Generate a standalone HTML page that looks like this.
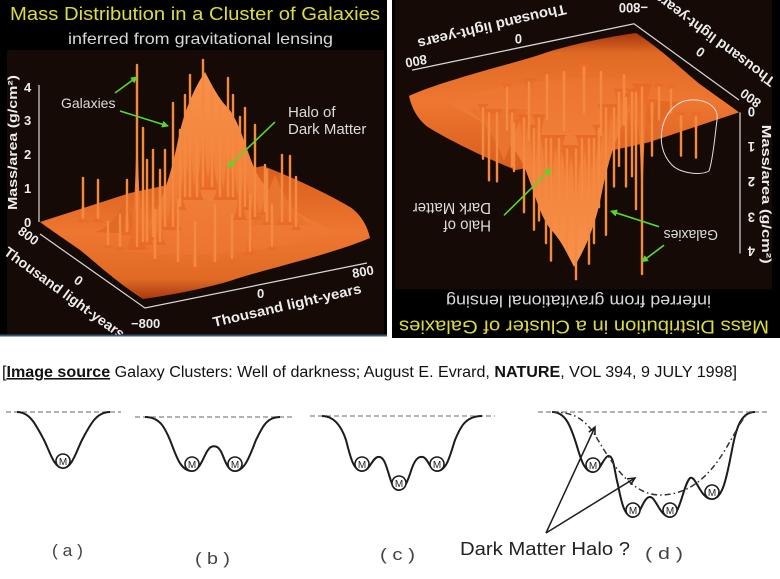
<!DOCTYPE html>
<html><head><meta charset="utf-8"><style>
html,body{margin:0;padding:0;background:#fff;}
svg{display:block;}
text{font-family:"Liberation Sans",sans-serif;}
</style></head><body>
<svg width="780" height="579" viewBox="0 0 780 579" xmlns="http://www.w3.org/2000/svg">
<defs>
<linearGradient id="surf" x1="0" y1="0" x2="0" y2="1">
<stop offset="0" stop-color="#d85e1c"/><stop offset="0.5" stop-color="#ee7630"/><stop offset="0.85" stop-color="#e06a24"/><stop offset="1" stop-color="#a83810"/>
</linearGradient>
<linearGradient id="sp" x1="0" y1="0" x2="0" y2="1">
<stop offset="0" stop-color="#ff9a52"/><stop offset="1" stop-color="#e86a26"/>
</linearGradient>
<linearGradient id="mound" x1="0" y1="0" x2="0" y2="1">
<stop offset="0" stop-color="#f8924a"/><stop offset="1" stop-color="#ec7430"/>
</linearGradient>
<marker id="ga" markerWidth="7" markerHeight="7" refX="6" refY="3.5" orient="auto" markerUnits="userSpaceOnUse"><path d="M0,0 L7,3.5 L0,7 Z" fill="#5ad62a"/></marker>
<clipPath id="cl"><rect x="0" y="0" width="387" height="336"/></clipPath>
<clipPath id="cr"><rect x="392" y="0" width="388" height="338"/></clipPath>
<g id="plot">
<rect x="0" y="0" width="387" height="337" fill="#000"/>
<rect x="7" y="50" width="377" height="284" fill="#150a05"/>
<path d="M40,222 L130,193 L200,178 L263,166 C300,180 335,198 350,207 C362,215 368,228 370,238 C330,255 262,270 233,280 C200,290 165,296 143,299 C120,285 95,262 80,250 C60,236 48,228 40,222 Z" fill="url(#surf)"/>
<path d="M120,250 C150,240 168,190 178,140 C184,110 196,85 205,72 C212,85 218,98 228,108 C240,122 246,150 256,172 C270,200 300,215 335,232 C280,250 200,262 120,250 Z" fill="url(#mound)"/>
<path d="M95,232 C110,228 118,215 125,200 C130,215 140,226 160,235 Z" fill="#e06a26"/>
<path d="M250,225 C262,215 268,190 275,175 C282,192 290,210 310,225 Z" fill="#e87430"/>
<g fill="url(#sp)">
<path d="M180,200 Q190,200 190,75 Q190,200 200,200Z"/>
<path d="M193,190 Q203,190 203,60 Q203,190 213,190Z"/>
<path d="M203,190 Q212,190 212,88 Q212,190 221,190Z"/>
<path d="M218,200 Q228,200 228,78 Q228,200 238,200Z"/>
<path d="M225,200 Q233,200 233,95 Q233,200 241,200Z"/>
<path d="M235,210 Q245,210 245,108 Q245,210 255,210Z"/>
<path d="M212,200 Q220,200 220,105 Q220,200 228,200Z"/>
<path d="M172,210 Q180,210 180,130 Q180,210 188,210Z"/>
<path d="M189,200 Q197,200 197,115 Q197,200 205,200Z"/>
<path d="M163,230 Q173,230 173,103 Q173,230 183,230Z"/>
<path d="M157,230 Q165,230 165,150 Q165,230 173,230Z"/>
<path d="M177,200 Q185,200 185,95 Q185,200 193,200Z"/>
<path d="M232,220 Q240,220 240,117 Q240,220 248,220Z"/>
<path d="M247,220 Q255,220 255,125 Q255,220 263,220Z"/>
<path d="M258,215 Q265,215 265,165 Q265,215 272,215Z"/>
<path d="M275,225 Q282,225 282,155 Q282,225 289,225Z"/>
<path d="M283,225 Q290,225 290,156 Q290,225 297,225Z"/>
<path d="M290,230 Q296,230 296,177 Q296,230 302,230Z"/>
<path d="M261,225 Q267,225 267,170 Q267,225 273,225Z"/>
<path d="M125,250 Q137,250 137,65 Q137,250 149,250Z"/>
<path d="M135,245 Q143,245 143,128 Q143,245 151,245Z"/>
<path d="M146,240 Q153,240 153,150 Q153,240 160,240Z"/>
<path d="M120,235 Q127,235 127,180 Q127,235 134,235Z"/>
<path d="M76,222 Q83,222 83,178 Q83,222 90,222Z"/>
<path d="M91,222 Q98,222 98,180 Q98,222 105,222Z"/>
<path d="M140,245 Q147,245 147,160 Q147,245 154,245Z"/>
<path d="M153,245 Q160,245 160,170 Q160,245 167,245Z"/>
<path d="M146,262 Q155,262 155,210 Q155,262 164,262Z"/>
<path d="M169,265 Q178,265 178,200 Q178,265 187,265Z"/>
<path d="M206,265 Q215,265 215,205 Q215,265 224,265Z"/>
<path d="M242,255 Q250,255 250,195 Q250,255 258,255Z"/>
<path d="M113,250 Q120,250 120,215 Q120,250 127,250Z"/>
<path d="M102,248 Q108,248 108,222 Q108,248 114,248Z"/>
<path d="M225,262 Q232,262 232,215 Q232,262 239,262Z"/>
<path d="M187,270 Q195,270 195,222 Q195,270 203,270Z"/>
<path d="M266,250 Q272,250 272,205 Q272,250 278,250Z"/>
</g>
<g stroke="#f48a40" stroke-width="2.4" stroke-linecap="round">
<line x1="190" y1="75" x2="190" y2="196"/>
<line x1="203" y1="60" x2="203" y2="186"/>
<line x1="212" y1="88" x2="212" y2="186"/>
<line x1="228" y1="78" x2="228" y2="196"/>
<line x1="233" y1="95" x2="233" y2="196"/>
<line x1="245" y1="108" x2="245" y2="206"/>
<line x1="220" y1="105" x2="220" y2="196"/>
<line x1="180" y1="130" x2="180" y2="206"/>
<line x1="197" y1="115" x2="197" y2="196"/>
<line x1="173" y1="103" x2="173" y2="226"/>
<line x1="165" y1="150" x2="165" y2="226"/>
<line x1="185" y1="95" x2="185" y2="196"/>
<line x1="240" y1="117" x2="240" y2="216"/>
<line x1="255" y1="125" x2="255" y2="216"/>
<line x1="265" y1="165" x2="265" y2="211"/>
<line x1="282" y1="155" x2="282" y2="221"/>
<line x1="290" y1="156" x2="290" y2="221"/>
<line x1="296" y1="177" x2="296" y2="226"/>
<line x1="267" y1="170" x2="267" y2="221"/>
<line x1="137" y1="65" x2="137" y2="246"/>
<line x1="143" y1="128" x2="143" y2="241"/>
<line x1="153" y1="150" x2="153" y2="236"/>
<line x1="127" y1="180" x2="127" y2="231"/>
<line x1="83" y1="178" x2="83" y2="218"/>
<line x1="98" y1="180" x2="98" y2="218"/>
<line x1="147" y1="160" x2="147" y2="241"/>
<line x1="160" y1="170" x2="160" y2="241"/>
<line x1="155" y1="210" x2="155" y2="258"/>
<line x1="178" y1="200" x2="178" y2="261"/>
<line x1="215" y1="205" x2="215" y2="261"/>
<line x1="250" y1="195" x2="250" y2="251"/>
<line x1="120" y1="215" x2="120" y2="246"/>
<line x1="108" y1="222" x2="108" y2="244"/>
<line x1="232" y1="215" x2="232" y2="258"/>
<line x1="195" y1="222" x2="195" y2="266"/>
<line x1="272" y1="205" x2="272" y2="246"/>
</g>
<g stroke="#d8d8d8" stroke-width="1.2" fill="none">
<path d="M39,85 L39,222"/>
<path d="M40,234 L145,308 L367,263"/>
</g>
<g stroke="#5ad62a" stroke-width="1.6" marker-end="url(#ga)">
<line x1="115" y1="93" x2="137" y2="77"/>
<line x1="120" y1="111" x2="168" y2="126"/>
<line x1="275" y1="122" x2="228" y2="167"/>
</g>
</g>
</defs>

<!-- LEFT PANEL -->
<g clip-path="url(#cl)">
<use href="#plot"/>
<text x="10" y="20" font-size="18" fill="#dcdc3c" textLength="370" lengthAdjust="spacingAndGlyphs">Mass Distribution in a Cluster of Galaxies</text>
<text x="68" y="44" font-size="16" fill="#d8d8d8" textLength="265" lengthAdjust="spacingAndGlyphs">inferred from gravitational lensing</text>
<text x="61" y="108" font-size="14" fill="#dcdcdc">Galaxies</text>
<text x="288" y="117" font-size="15" fill="#dcdcdc">Halo of</text>
<text x="288" y="134" font-size="15" fill="#dcdcdc">Dark Matter</text>
<g font-size="13" font-weight="bold" fill="#ececec">
<text x="24" y="92">4</text><text x="24" y="125">3</text><text x="24" y="159">2</text><text x="24" y="193">1</text><text x="24" y="227">0</text>
<text transform="translate(17,210) rotate(-90)" textLength="135" lengthAdjust="spacingAndGlyphs">Mass/area (g/cm²)</text>
<text transform="translate(17,233) rotate(36)">800</text>
<text transform="translate(3,254) rotate(36)" font-size="14" textLength="145" lengthAdjust="spacingAndGlyphs">Thousand light-years</text>
<text transform="translate(73,282) rotate(36)">0</text>
<text x="131" y="328">−800</text>
<text x="257" y="298">0</text>
<text transform="translate(353,278) rotate(-10)">800</text>
<text transform="translate(214,327) rotate(-13)" font-size="14" textLength="152" lengthAdjust="spacingAndGlyphs">Thousand light-years</text>
</g>
</g>
<rect x="0" y="334.5" width="387" height="2" fill="#3b5770"/>

<!-- RIGHT PANEL (rotated) -->
<g clip-path="url(#cr)">
<rect x="392" y="0" width="388" height="338" fill="#000"/>
<g transform="translate(779,341) scale(-1,-1.03)">
<use href="#plot"/>
<text x="10" y="20" font-size="18" fill="#dcdc3c" textLength="370" lengthAdjust="spacingAndGlyphs">Mass Distribution in a Cluster of Galaxies</text>
<text x="68" y="44" font-size="16" fill="#d8d8d8" textLength="265" lengthAdjust="spacingAndGlyphs">inferred from gravitational lensing</text>
<text x="61" y="108" font-size="14" fill="#dcdcdc">Galaxies</text>
<text x="288" y="117" font-size="15" fill="#dcdcdc">Halo of</text>
<text x="288" y="134" font-size="15" fill="#dcdcdc">Dark Matter</text>
<g font-size="13" font-weight="bold" fill="#ececec">
<text x="24" y="92">4</text><text x="24" y="125">3</text><text x="24" y="159">2</text><text x="24" y="193">1</text><text x="24" y="227">0</text>
<text transform="translate(17,210) rotate(-90)" textLength="135" lengthAdjust="spacingAndGlyphs">Mass/area (g/cm²)</text>
<text transform="translate(17,233) rotate(36)">800</text>
<text transform="translate(3,254) rotate(36)" font-size="14" textLength="145" lengthAdjust="spacingAndGlyphs">Thousand light-years</text>
<text transform="translate(73,282) rotate(36)">0</text>
<text x="131" y="328">−800</text>
<text x="257" y="298">0</text>
<text transform="translate(353,278) rotate(-10)">800</text>
<text transform="translate(214,327) rotate(-13)" font-size="14" textLength="152" lengthAdjust="spacingAndGlyphs">Thousand light-years</text>
</g>
</g>
<path d="M690,100 C705,99 719,106 717,120 C715,135 713,160 709,171 C700,176 680,173 672,165 C662,155 659,140 663,125 C667,111 677,101 690,100 Z" fill="none" stroke="#e0e0e0" stroke-width="1"/>
</g>

<!-- CAPTION -->
<text x="2" y="377" font-size="15.5" fill="#111" textLength="735" lengthAdjust="spacingAndGlyphs">[<tspan font-weight="bold" text-decoration="underline">Image source</tspan> Galaxy Clusters: Well of darkness; August E. Evrard, <tspan font-weight="bold">NATURE</tspan>, VOL 394, 9 JULY 1998]</text>

<!-- DIAGRAMS -->
<g stroke="#9a9a9a" stroke-width="1.6" stroke-dasharray="5,3" fill="none">
<line x1="6" y1="412" x2="121" y2="412"/>
<line x1="135" y1="417" x2="295" y2="417"/>
<line x1="310" y1="416" x2="495" y2="416"/>
<line x1="538" y1="412" x2="770" y2="412"/>
</g>
<g stroke="#1c1c1c" stroke-width="2" fill="none" stroke-linejoin="round">
<path d="M17,412 C30,412 36,425 44,440 C50,452 54,468 63,468 C72,468 76,452 82,440 C90,425 96,412 110,412"/>
<path d="M145,417 C160,417 165,428 170,440 C176,455 180,471 192,471 C200,471 204,455 208,450 C211,445 217,445 220,450 C224,455 226,471 235,471 C245,471 250,455 256,440 C262,428 266,417 280,417"/>
<path d="M322,416 C335,416 342,428 346,440 C350,455 353,471 362,471 C370,471 372,458 378,457 C384,456 386,465 390,478 C393,488 395,490 399,490 C405,490 408,480 412,468 C415,460 418,456 423,457 C428,458 430,471 437,471 C447,471 450,455 455,440 C460,428 465,416 482,416"/>
<path d="M552,412 C565,412 570,425 575,440 C580,455 583,472 593,472 C600,472 603,458 608,456 C614,455 614,470 618,485 C621,500 624,517 633,517 C640,517 643,497 650,497 C656,497 660,517 670,517 C680,517 683,485 690,478 C696,475 700,499 712,499 C722,499 726,480 730,460 C735,435 738,412 755,412"/>
</g>
<path d="M552,412 C575,412 585,420 595,435 C610,460 630,495 660,495 C690,495 710,475 725,450 C740,425 745,412 752,412" stroke="#333" stroke-width="1.5" fill="none" stroke-dasharray="6,3,1.5,3"/>
<g stroke="#1c1c1c" stroke-width="1.6" fill="#fff">
<circle cx="63" cy="461" r="7"/>
<circle cx="192" cy="464" r="7"/><circle cx="235" cy="464" r="7"/>
<circle cx="362" cy="464" r="7"/><circle cx="399" cy="483" r="7"/><circle cx="437" cy="464" r="7"/>
<circle cx="593" cy="465" r="7"/><circle cx="633" cy="510" r="7"/><circle cx="670" cy="510" r="7"/><circle cx="712" cy="492" r="7"/>
</g>
<g font-size="10" fill="#222" text-anchor="middle">
<text x="63" y="465">M</text>
<text x="192" y="468">M</text><text x="235" y="468">M</text>
<text x="362" y="468">M</text><text x="399" y="487">M</text><text x="437" y="468">M</text>
<text x="593" y="469">M</text><text x="633" y="514">M</text><text x="670" y="514">M</text><text x="712" y="496">M</text>
</g>
<g stroke="#1c1c1c" stroke-width="1.5" fill="none">
<path d="M546,533 L595,427"/>
<path d="M588.8,432.2 L595,427 L595,435"/>
<path d="M546,533 L635,478"/>
<path d="M627.1,478.9 L635,478 L630.6,484.7"/>
</g>
<text x="460" y="555" font-size="18" fill="#222" textLength="170" lengthAdjust="spacingAndGlyphs">Dark Matter Halo ?</text>
<g font-size="17" fill="#444">
<text x="52" y="556" textLength="31" lengthAdjust="spacingAndGlyphs">( a )</text>
<text x="195" y="564" textLength="35" lengthAdjust="spacingAndGlyphs">( b )</text>
<text x="380" y="560" textLength="35" lengthAdjust="spacingAndGlyphs">( c )</text>
<text x="645" y="559" textLength="38" lengthAdjust="spacingAndGlyphs">( d )</text>
</g>
</svg>
</body></html>
